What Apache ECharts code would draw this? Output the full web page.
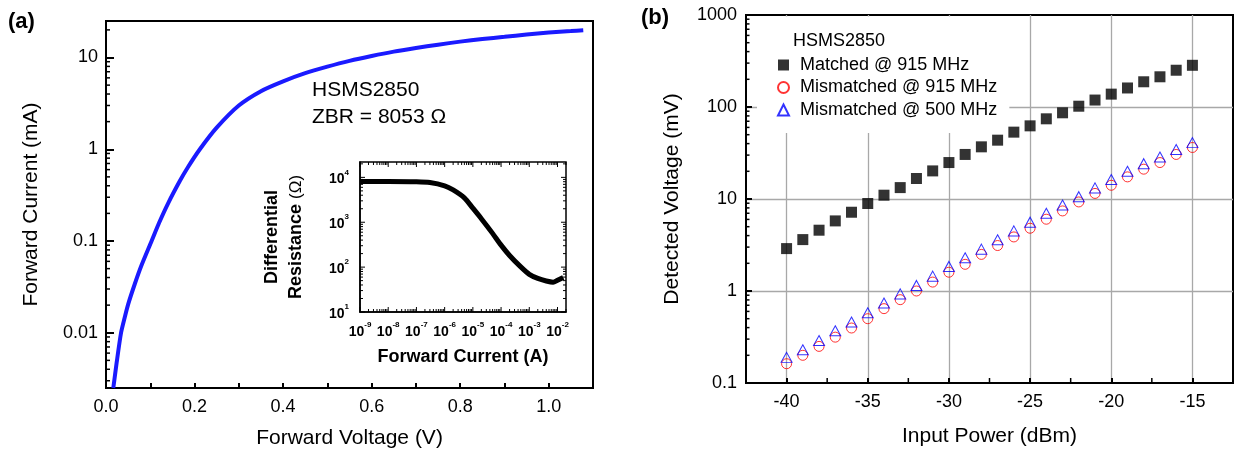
<!DOCTYPE html>
<html><head><meta charset="utf-8">
<script src="https://cdn.jsdelivr.net/npm/echarts@6/dist/echarts.min.js"></script>
<style>html,body{margin:0;padding:0;background:#fff}#c{width:1241px;height:452px}</style>
</head><body><div id="c"></div>
<script>
// ---- Panel (a): I-V curve ----
const voltageA = [0.0165,0.024,0.034,0.042,0.05,0.065,0.08,0.103,0.12,0.14,0.167,0.185,0.212,0.25,0.3,0.35,0.4,0.45,0.5,0.55,0.6,0.65,0.7,0.75,0.8,0.85,0.9,0.95,1.0,1.05,1.078];
const currentA = [0.0025,0.0047,0.01,0.0145,0.0204,0.034,0.054,0.1,0.158,0.256,0.453,0.637,1.0,1.72,3.0,4.3,5.5,6.75,7.95,9.2,10.4,11.6,12.7,13.8,14.9,15.9,16.8,17.8,18.7,19.4,19.8];
// ---- Inset: differential resistance ----
const insetCurrent = [1e-9,1e-8,1e-7,3e-7,1e-6,2e-6,5e-6,1e-5,2e-5,5e-5,1e-4,2e-4,5e-4,1e-3,2e-3,4e-3,7e-3,1e-2,1.6e-2];
const insetResistance = [8100,8100,8000,7700,6500,5250,3500,2060,1200,565,309,182,101,69,56,49,46,51,59];
// ---- Panel (b): detected voltage ----
const inputPower = [-40,-39,-38,-37,-36,-35,-34,-33,-32,-31,-30,-29,-28,-27,-26,-25,-24,-23,-22,-21,-20,-19,-18,-17,-16,-15];
const matched915 = [2.89,3.62,4.58,5.78,7.18,8.93,11.0,13.3,16.7,20.2,24.9,30.5,36.9,43.6,53.3,62.4,74.4,86.5,102,119,138,161,188,213,251,284];
const mismatched915 = [0.162,0.20,0.25,0.315,0.396,0.50,0.643,0.805,1.0,1.25,1.60,1.95,2.5,3.12,3.87,4.81,6.03,7.42,9.29,11.5,14.1,17.4,21.1,24.9,30.5,36.3];
const mismatched500 = [0.19,0.23,0.29,0.37,0.46,0.58,0.74,0.93,1.15,1.45,1.85,2.3,2.85,3.6,4.5,5.6,7.0,8.6,10.6,13.2,16.3,20.0,24.2,28.6,34.5,41];
const seriesNames = ['Matched @ 915 MHz','Mismatched @ 915 MHz','Mismatched @ 500 MHz'];
const minorMultipliers = [2,3,4,5,6,7,8,9];
const bMinorX = [-37.5,-32.5,-27.5,-22.5,-17.5];

const FONT = 'Liberation Sans, Arial, sans-serif';

function logMinors(lo, hi){
  const out = [];
  for (let d = -10; d <= 5; d++) for (const m of minorMultipliers){
    const v = m * Math.pow(10, d);
    if (v >= lo*0.9999 && v <= hi*1.0001) out.push(parseFloat(v.toPrecision(6)));
  }
  return out;
}
function logMajors(lo, hi){
  const out = [];
  for (let d = -10; d <= 5; d++){ const v = Math.pow(10,d); if (v >= lo*0.9999 && v <= hi*1.0001) out.push(parseFloat(v.toPrecision(6))); }
  return out;
}
function logLabel(v){
  const e = Math.log10(v);
  if (Math.abs(e - Math.round(e)) > 1e-6) return '';
  return String(parseFloat(v.toPrecision(6)));
}
function supLabel(v){
  const e = Math.log10(v);
  if (Math.abs(e - Math.round(e)) > 1e-6) return '';
  return '{b|10}{s|' + Math.round(e) + '}';
}
// tick marker series: item = [x, y, side(0 left,1 right,2 bottom,3 top), major]
function tickSeries(xi, yi, items, minorLen, majorLen, width){
  return {
    type:'custom', coordinateSystem:'cartesian2d', xAxisIndex:xi, yAxisIndex:yi, silent:true, z:6, clip:false,
    data: items,
    renderItem: function(params, api){
      const p = api.coord([api.value(0), api.value(1)]);
      const side = api.value(2), len = api.value(3) ? majorLen : minorLen;
      let x2 = p[0], y2 = p[1];
      if (side === 0) x2 += len; else if (side === 1) x2 -= len; else if (side === 2) y2 -= len; else y2 += len;
      return {type:'line', shape:{x1:p[0], y1:p[1], x2:x2, y2:y2}, style:{stroke:'#000', lineWidth:width}};
    }
  };
}

const A_X = [0, 1.1], A_Y = [0.0025, 25];
const IN_X = [1e-9, 0.02], IN_Y = [10, 22000];
const B_X = [-42.5, -12.5], B_Y = [0.1, 1000];

const ticksA = logMinors(A_Y[0], A_Y[1]).map(v => [A_X[0], v, 0, 0]);
const ticksB = logMinors(B_Y[0], B_Y[1]).map(v => [B_X[0], v, 0, 0])
  .concat(bMinorX.map(x => [x, B_Y[0], 2, 1]));
const ticksIn = [];
logMinors(IN_Y[0], IN_Y[1]).forEach(v => { ticksIn.push([IN_X[0], v, 0, 0]); ticksIn.push([IN_X[1], v, 1, 0]); });
logMajors(IN_Y[0], IN_Y[1]).forEach(v => { ticksIn.push([IN_X[0], v, 0, 1]); ticksIn.push([IN_X[1], v, 1, 1]); });
logMinors(IN_X[0], IN_X[1]).forEach(v => { ticksIn.push([v, IN_Y[0], 2, 0]); ticksIn.push([v, IN_Y[1], 3, 0]); });
logMajors(IN_X[0], IN_X[1]).forEach(v => { ticksIn.push([v, IN_Y[0], 2, 1]); ticksIn.push([v, IN_Y[1], 3, 1]); });

const txt = {color:'#000', fontFamily:FONT};
const chart = echarts.init(document.getElementById('c'), null, {renderer:'canvas'});
chart.setOption({
  animation:false,
  backgroundColor:'#fff',
  textStyle:{fontFamily:FONT, color:'#000'},
  grid:[
    {left:106, top:21, width:487, height:367, show:true, borderColor:'#000', borderWidth:2, backgroundColor:'rgba(0,0,0,0)', containLabel:false, outerBoundsMode:'none'},
    {left:360, top:162, width:206, height:150, show:true, borderColor:'#000', borderWidth:1.5, backgroundColor:'rgba(0,0,0,0)', containLabel:false, outerBoundsMode:'none'},
    {left:746, top:15, width:487, height:368, show:true, borderColor:'#000', borderWidth:2, backgroundColor:'rgba(0,0,0,0)', containLabel:false, outerBoundsMode:'none'}
  ],
  xAxis:[
    {gridIndex:0, type:'value', min:A_X[0], max:A_X[1], interval:0.1,
     axisLine:{show:true, lineStyle:{color:'#000', width:2}},
     axisTick:{show:true, inside:true, length:5, lineStyle:{color:'#000', width:2}},
     splitLine:{show:false},
     axisLabel:{...txt, fontSize:18, margin:10, formatter:v => (Math.round(v*10) % 2 === 0) ? (Math.round(v*10)/10).toFixed(1) : ''},
     name:'Forward Voltage (V)', nameLocation:'middle', nameGap:40, nameMoveOverlap:false,
     nameTextStyle:{...txt, fontSize:21}},
    {gridIndex:1, type:'log', min:IN_X[0], max:IN_X[1],
     axisLine:{show:true, lineStyle:{color:'#000', width:1.5}},
     axisTick:{show:false}, splitLine:{show:false},
     axisLabel:{margin:9, formatter:supLabel,
       rich:{b:{...txt, fontSize:14, fontWeight:'bold', lineHeight:18, verticalAlign:'bottom'},
             s:{...txt, fontSize:8, fontWeight:'bold', verticalAlign:'top', lineHeight:10}}},
     name:'Forward Current (A)', nameLocation:'middle', nameGap:36, nameMoveOverlap:false,
     nameTextStyle:{...txt, fontSize:18, fontWeight:'bold'}},
    {gridIndex:2, type:'value', min:B_X[0], max:B_X[1], splitNumber:6,
     axisLine:{show:true, lineStyle:{color:'#000', width:2}},
     axisTick:{show:true, inside:true, length:5, lineStyle:{color:'#000', width:2}},
     splitLine:{show:true, showMinLine:false, showMaxLine:false, lineStyle:{color:'#a8a8a8', width:1.3}},
     axisLabel:{...txt, fontSize:18, margin:10, formatter:v => (Math.abs(v % 5) < 1e-6) ? String(Math.round(v)) : ''},
     name:'Input Power (dBm)', nameLocation:'middle', nameGap:43, nameMoveOverlap:false,
     nameTextStyle:{...txt, fontSize:21}}
  ],
  yAxis:[
    {gridIndex:0, type:'log', min:A_Y[0], max:A_Y[1],
     axisLine:{show:true, lineStyle:{color:'#000', width:2}},
     axisTick:{show:true, inside:true, length:8, lineStyle:{color:'#000', width:2}},
     splitLine:{show:false},
     axisLabel:{...txt, fontSize:18, margin:8, formatter:logLabel},
     name:'Forward Current (mA)', nameLocation:'middle', nameGap:64, nameMoveOverlap:false,
     nameTextStyle:{...txt, fontSize:21}},
    {gridIndex:1, type:'log', min:IN_Y[0], max:IN_Y[1],
     axisLine:{show:true, lineStyle:{color:'#000', width:1.5}},
     axisTick:{show:false}, splitLine:{show:false},
     axisLabel:{margin:11, formatter:supLabel,
       rich:{b:{...txt, fontSize:14, fontWeight:'bold', lineHeight:18, verticalAlign:'bottom'},
             s:{...txt, fontSize:8, fontWeight:'bold', verticalAlign:'top', lineHeight:10}}},
     name:'{b|Differential}\n{b|Resistance }{o|(Ω)}', nameLocation:'middle', nameGap:52, nameMoveOverlap:false,
     nameTextStyle:{...txt, fontSize:18, fontWeight:'bold', lineHeight:24,
       rich:{b:{...txt, fontSize:18, fontWeight:'bold', lineHeight:24}, o:{...txt, fontSize:17, fontWeight:'normal', lineHeight:24}}}},
    {gridIndex:2, type:'log', min:B_Y[0], max:B_Y[1],
     axisLine:{show:true, lineStyle:{color:'#000', width:2}},
     axisTick:{show:true, inside:true, length:6, lineStyle:{color:'#000', width:2}},
     splitLine:{show:true, showMinLine:false, showMaxLine:false, lineStyle:{color:'#a8a8a8', width:1.3}},
     axisLabel:{...txt, fontSize:18, margin:9, formatter:logLabel},
     name:'Detected Voltage (mV)', nameLocation:'middle', nameGap:63, nameMoveOverlap:false,
     nameTextStyle:{...txt, fontSize:21}}
  ],
  legend:{
    data:seriesNames, orient:'vertical', left:757, top:16.5,
    padding:[38.5, 12, 13, 20], backgroundColor:'#fff', borderWidth:0,
    itemWidth:11, itemHeight:11, itemGap:2.5, selectedMode:false,
    textStyle:{...txt, fontSize:18, lineHeight:20, padding:[0,0,0,6]}
  },
  graphic:{elements:[
    {type:'text', x:8, y:22, z:100, style:{text:'(a)', fontSize:22, fontWeight:'bold', fontFamily:FONT, fill:'#000', verticalAlign:'middle', textVerticalAlign:'middle'}},
    {type:'text', x:641, y:18, z:100, style:{text:'(b)', fontSize:22, fontWeight:'bold', fontFamily:FONT, fill:'#000', verticalAlign:'middle', textVerticalAlign:'middle'}},
    {type:'text', x:312, y:90, z:100, style:{text:'HSMS2850', fontSize:21, fontFamily:FONT, fill:'#000', verticalAlign:'middle', textVerticalAlign:'middle'}},
    {type:'text', x:312, y:117, z:100, style:{text:'ZBR = 8053 Ω', fontSize:21, fontFamily:FONT, fill:'#000', verticalAlign:'middle', textVerticalAlign:'middle'}},
    {type:'text', x:793, y:41, z:100, style:{text:'HSMS2850', fontSize:18, fontFamily:FONT, fill:'#000', verticalAlign:'middle', textVerticalAlign:'middle'}}
  ]},
  series:[
    {type:'line', name:'I-V', xAxisIndex:0, yAxisIndex:0, showSymbol:false, smooth:0.25, z:4,
     lineStyle:{color:'#1a1aff', width:4}, itemStyle:{color:'#1a1aff'},
     data:voltageA.map((v,i)=>[v, currentA[i]])},
    {type:'line', name:'Rd', xAxisIndex:1, yAxisIndex:1, showSymbol:false, smooth:0.25, z:4,
     lineStyle:{color:'#000', width:5}, itemStyle:{color:'#000'},
     data:insetCurrent.map((v,i)=>[v, insetResistance[i]])},
    {type:'scatter', name:seriesNames[0], xAxisIndex:2, yAxisIndex:2, symbol:'rect', symbolSize:11, z:5,
     itemStyle:{color:'#000'}, data:inputPower.map((p,i)=>[p, matched915[i]])},
    {type:'scatter', name:seriesNames[1], xAxisIndex:2, yAxisIndex:2, symbol:'circle', symbolSize:10, z:5,
     itemStyle:{color:'rgba(0,0,0,0)', borderColor:'#ff0000', borderWidth:1}, data:inputPower.map((p,i)=>[p, mismatched915[i]])},
    {type:'scatter', name:seriesNames[2], xAxisIndex:2, yAxisIndex:2, symbol:'triangle', symbolSize:[11,10], z:5,
     itemStyle:{color:'rgba(0,0,0,0)', borderColor:'#0000ff', borderWidth:1}, data:inputPower.map((p,i)=>[p, mismatched500[i]])},
    tickSeries(0, 0, ticksA, 4, 8, 1.5),
    tickSeries(1, 1, ticksIn, 3, 5, 1),
    tickSeries(2, 2, ticksB, 3.5, 5, 1.5)
  ]
});
</script></body></html>
